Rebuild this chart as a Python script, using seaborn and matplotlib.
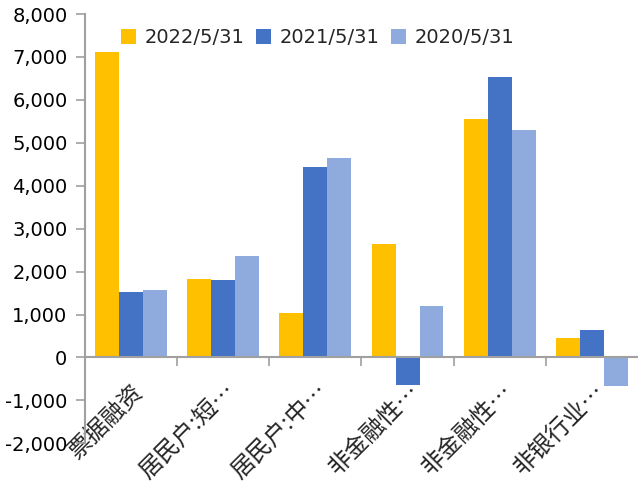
import matplotlib
matplotlib.use("Agg")
import matplotlib.pyplot as plt
import matplotlib.transforms as mtransforms
from matplotlib.ticker import FuncFormatter, FixedLocator
import pandas as pd
import seaborn as sns

categories = ["票据融资", "居民户:短…", "居民户:中…", "非金融性…", "非金融性…", "非银行业…"]
series_names = ["2022/5/31", "2021/5/31", "2020/5/31"]
v2022 = [7120, 1820, 1040, 2640, 5550, 460]
v2021 = [1530, 1800, 4430, -640, 6530, 630]
v2020 = [1570, 2370, 4650, 1200, 5310, -660]
colors = ["#FFC000", "#4472C4", "#8FAADC"]
yticks = [-2000, -1000, 0, 1000, 2000, 3000, 4000, 5000, 6000, 7000, 8000]

# positional index keeps the two "非金融性…" groups apart
rows = []
for i, cat in enumerate(categories):
    for name, vals in zip(series_names, [v2022, v2021, v2020]):
        rows.append({"idx": i, "series": name, "value": vals[i]})
df = pd.DataFrame(rows)

sns.set_theme(style="white")
plt.rcParams["font.family"] = ["DejaVu Sans", "Noto Sans CJK SC"]

fig = plt.figure(figsize=(6.38, 4.84), dpi=100)
ax = fig.add_axes([0.133, 0.084, 0.867, 0.887])

sns.barplot(data=df, x="idx", y="value", hue="series", hue_order=series_names,
            palette=colors, width=0.78, ax=ax, saturation=1, errorbar=None,
            linewidth=0)

ax.set_xlim(-0.5, len(categories) - 0.5)
ax.set_ylim(-2000, 8000)
ax.set_yticks(yticks)
ax.yaxis.set_major_formatter(FuncFormatter(lambda v, p: f"{int(v):,}"))

axis_gray = "#A0A0A0"
for side in ["top", "right"]:
    ax.spines[side].set_visible(False)
ax.spines["left"].set_color(axis_gray)
ax.spines["left"].set_linewidth(1.5)
ax.spines["bottom"].set_color(axis_gray)
ax.spines["bottom"].set_linewidth(1.5)
ax.spines["bottom"].set_position(("data", 0))

ax.tick_params(axis="y", which="major", direction="out", length=6.5, width=1.2,
               color=axis_gray, labelsize=14, labelcolor="black", pad=6, left=True)

# category labels at centres, tick marks at group boundaries
ax.set_xticks(range(len(categories)))
ax.set_xticklabels(categories, rotation=45, ha="right", va="center",
                   rotation_mode="anchor", fontsize=17,
                   family=["Noto Sans CJK SC", "DejaVu Sans"])
ax.tick_params(axis="x", which="major", length=0, pad=24)
shift = mtransforms.ScaledTranslation(9 / 100, 3 / 100, fig.dpi_scale_trans)
for lab in ax.get_xticklabels():
    lab.set_transform(lab.get_transform() + shift)
ax.xaxis.set_minor_locator(FixedLocator([k + 0.5 for k in range(len(categories) - 1)]))
ax.tick_params(axis="x", which="minor", direction="out", length=6.5, width=1.2,
               color=axis_gray, bottom=True)
ax.set_xlabel("")
ax.set_ylabel("")

ax.legend(loc="upper left", bbox_to_anchor=(0.052, 0.985), ncol=3, frameon=False,
          fontsize=14, handlelength=0.75, handleheight=0.75, handletextpad=0.45,
          columnspacing=0.6, borderaxespad=0)

fig.savefig("out.png", dpi=100)
